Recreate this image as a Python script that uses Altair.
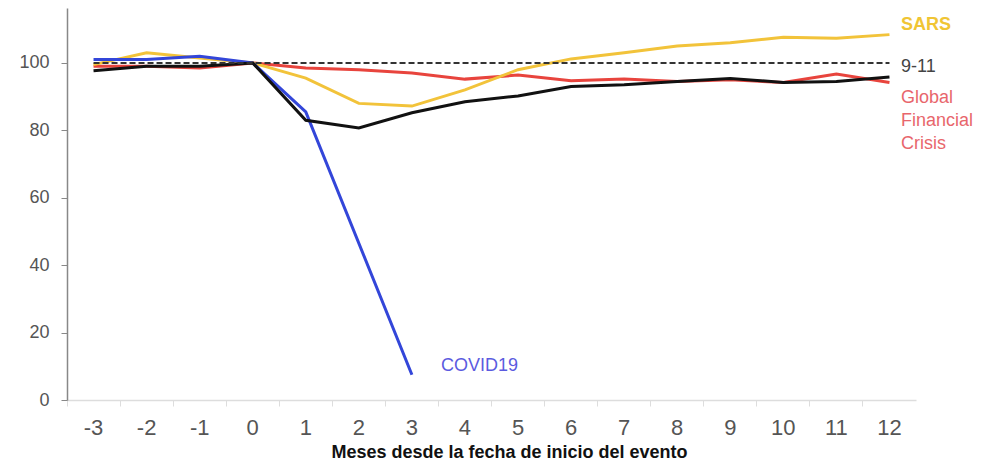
import altair as alt
import pandas as pd

months = [-3, -2, -1, 0, 1, 2, 3, 4, 5, 6, 7, 8, 9, 10, 11, 12]
sars = [99.5, 103, 101.5, 100, 95.5, 88, 87.2, 92, 98, 101.2, 103, 105, 106, 107.6, 107.3, 108.4]
gfc = [99, 99, 98.5, 100, 98.5, 98, 97, 95.2, 96.4, 94.7, 95.2, 94.5, 95, 94.2, 96.7, 94.2]
nine_eleven = [97.7, 99, 99, 100, 83, 80.7, 85.2, 88.5, 90.2, 93, 93.5, 94.5, 95.4, 94.2, 94.5, 95.8]
covid_months = [-3, -2, -1, 0, 1, 3]
covid = [101, 101, 102, 100, 85.5, 7.5]
baseline = [100] * 16

rows = []
for m, v in zip(months, gfc):
    rows.append({"m": m, "v": v, "s": "gfc", "o": 0})
for m, v in zip(months, sars):
    rows.append({"m": m, "v": v, "s": "sars", "o": 1})
for m, v in zip(covid_months, covid):
    rows.append({"m": m, "v": v, "s": "covid", "o": 2})
for m, v in zip(months, nine_eleven):
    rows.append({"m": m, "v": v, "s": "911", "o": 3})
df = pd.DataFrame(rows)
base_df = pd.DataFrame({"m": months, "v": baseline})

FONT = "Liberation Sans"

xenc = alt.X(
    "m:O",
    sort=months,
    scale=alt.Scale(type="band", paddingInner=0, paddingOuter=0),
    axis=alt.Axis(
        title="Meses desde la fecha de inicio del evento",
        bandPosition=0,
        labelAngle=0,
        labelFontSize=22,
        labelColor="#555555",
        labelFont=FONT,
        labelPadding=11,
        tickColor="#dddddd",
        tickSize=6,
        domainColor="#dddddd",
        domainWidth=1.5,
        titleFont=FONT,
        titleFontSize=18,
        titleFontWeight="bold",
        titleColor="#111111",
        titleBaseline="alphabetic",
        titleX=442,
        titleY=57,
    ),
)
yenc = alt.Y(
    "v:Q",
    scale=alt.Scale(domain=[0, 116.3], nice=False, zero=True),
    axis=alt.Axis(
        title=None,
        values=[0, 20, 40, 60, 80, 100],
        grid=False,
        labelFontSize=18,
        labelColor="#555555",
        labelFont=FONT,
        labelPadding=12,
        tickColor="#888888",
        tickSize=6,
        domainColor="#888888",
        domainWidth=1.5,
    ),
)

lines = alt.Chart(df).mark_line(strokeWidth=3).encode(
    x=xenc,
    y=yenc,
    color=alt.Color(
        "s:N",
        scale=alt.Scale(
            domain=["gfc", "sars", "covid", "911"],
            range=["#e8443d", "#f2c33a", "#3346d9", "#111111"],
        ),
        legend=None,
    ),
    order="o:Q",
    detail="s:N",
)

dashed = alt.Chart(base_df).mark_line(
    strokeWidth=2, strokeDash=[6, 3], color="#333333"
).encode(x=alt.X("m:O", sort=months), y="v:Q")

lab_sars = alt.Chart(pd.DataFrame({"t": ["SARS"]})).mark_text(
    align="left", baseline="middle", font=FONT, fontSize=18, fontWeight="bold", color="#f0c534"
).encode(text="t:N", x=alt.value(834), y=alt.value(17))

lab_911 = alt.Chart(pd.DataFrame({"t": ["9-11"]})).mark_text(
    align="left", baseline="middle", font=FONT, fontSize=18, color="#444444"
).encode(text="t:N", x=alt.value(834), y=alt.value(59))

lab_gfc = alt.Chart(pd.DataFrame({"t": ["Global\nFinancial\nCrisis"]})).mark_text(
    align="left", baseline="middle", font=FONT, fontSize=18, color="#e8666c",
    lineBreak="\n", lineHeight=23,
).encode(text="t:N", x=alt.value(834), y=alt.value(90))

lab_covid = alt.Chart(pd.DataFrame({"t": ["COVID19"]})).mark_text(
    align="left", baseline="middle", font=FONT, fontSize=18, color="#5b5be0"
).encode(text="t:N", x=alt.value(374), y=alt.value(358))

chart = alt.layer(lines, dashed, lab_sars, lab_911, lab_gfc, lab_covid).properties(
    width=849,
    height=392,
    autosize=alt.AutoSizeParams(type="none"),
    padding={"left": 59, "top": 0, "right": 60, "bottom": 62},
).configure_view(stroke=None)

chart.save("out.html", embed_options={"renderer": "svg", "actions": False})
